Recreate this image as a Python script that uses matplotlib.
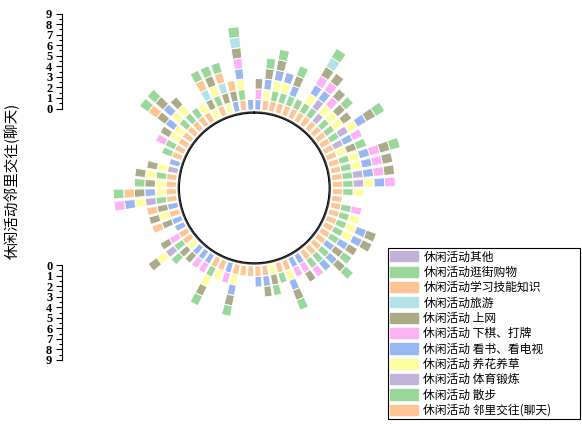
import numpy as np
import matplotlib.pyplot as plt
from matplotlib.ticker import MultipleLocator

plt.rcParams['font.family'] = ['Noto Sans CJK SC', 'DejaVu Sans']

# 72 samples around the ring, 1 = activity present
linli = [0,1,1,1,1,1,1,1,1,1,1,1,
         1,1,1,1,1,1,1,1,1,1,1,1,
         1,1,1,1,1,0,0,1,1,0,1,1,
         1,1,1,0,1,1,0,0,0,0,1,1,
         0,0,1,0,1,1,1,1,0,0,1,1,
         1,1,1,1,1,1,0,1,0,0,1,0]
sanbu = [0,0,1,1,1,1,1,1,0,1,1,1,
         0,0,1,1,1,1,1,0,1,1,1,1,
         1,0,1,1,1,0,0,0,1,0,0,0,
         0,0,0,0,0,1,0,0,0,0,1,0,
         0,0,0,0,1,0,0,1,0,0,1,1,
         0,0,1,1,1,0,0,1,0,0,1,0]
tiyu = [0,0,0,0,0,0,0,1,1,0,0,1,
        1,0,0,0,1,1,0,0,0,0,0,0,
        0,0,0,0,0,0,0,0,0,0,0,0,
        0,0,0,0,0,0,0,0,0,0,1,0,
        0,0,0,0,1,0,0,0,1,0,0,0,
        0,0,0,0,0,0,0,0,0,0,0,0]
yanghua = [0,1,1,1,0,0,1,0,1,1,1,1,
           0,1,1,1,0,1,1,0,0,1,1,1,
           0,0,0,0,0,0,0,1,0,1,0,0,
           0,0,1,0,1,1,0,0,0,1,1,0,
           0,0,1,0,1,1,1,1,1,0,0,0,
           1,1,1,1,0,1,1,1,1,0,1,0]
kanshu = [1,1,1,1,1,0,1,1,0,0,0,1,
          1,0,1,1,1,1,0,0,0,0,1,1,
          1,1,1,1,0,1,1,1,0,0,1,1,
          0,0,1,1,0,0,1,1,1,0,0,0,
          1,1,0,1,1,1,0,0,0,1,0,0,
          0,1,1,0,0,0,0,0,0,1,1,1]
xiaqi = [1,0,0,0,0,0,1,1,1,0,0,0,
         1,0,1,1,1,1,0,0,1,0,0,0,
         0,0,0,0,1,1,1,0,0,0,0,0,
         0,0,0,1,0,0,1,1,0,0,0,1,
         0,0,0,0,1,0,0,0,0,0,0,1,
         0,0,0,0,0,0,0,0,0,0,1,0]
shangwang = [1,1,1,0,1,0,1,1,1,1,1,1,
             0,1,1,1,1,0,0,0,0,0,1,1,
             1,1,1,0,0,1,0,1,0,1,1,0,
             0,0,1,0,0,1,0,0,1,1,1,1,
             0,1,1,1,0,1,1,1,1,0,0,0,
             1,1,1,1,0,0,1,1,1,1,1,0]
lvyou = [0,0,0,0,0,0,1,0,0,0,0,0,
         0,0,0,0,0,0,0,0,0,0,0,0,
         0,0,0,0,0,0,0,0,0,0,0,0,
         0,0,0,0,0,0,0,0,0,0,0,0,
         0,0,0,0,0,0,0,0,0,0,0,0,
         0,0,0,0,0,0,1,0,1,0,1,0]
xuexi = [0,0,0,0,0,0,0,0,0,0,0,0,
         0,0,0,0,0,0,0,0,0,0,0,0,
         0,0,0,0,0,0,0,0,0,0,0,0,
         0,0,0,0,0,0,0,0,0,0,0,0,
         0,1,0,1,0,1,0,0,0,0,0,0,
         0,1,0,0,0,0,1,0,1,1,0,0]
guangjie = [0,1,1,0,1,0,1,0,0,1,0,1,
            0,1,1,0,0,0,0,0,0,0,0,0,
            0,1,1,0,0,0,0,1,0,1,0,0,
            0,0,1,0,0,1,0,0,0,1,0,0,
            0,0,0,0,0,1,1,0,0,0,0,0,
            0,1,1,0,0,0,1,1,1,0,1,0]
qita = [0] * 72

# inner -> outer
series = [linli, sanbu, tiyu, yanghua, kanshu, xiaqi, shangwang, lvyou, xuexi, guangjie, qita]
names = ['休闲活动 邻里交往(聊天)', '休闲活动 散步', '休闲活动 体育锻炼', '休闲活动 养花养草',
         '休闲活动 看书、看电视', '休闲活动 下棋、打牌', '休闲活动 上网', '休闲活动旅游',
         '休闲活动学习技能知识', '休闲活动逛街购物', '休闲活动其他']
colors = ['#fdc594', '#99d79a', '#c3b2d7', '#fefe9e', '#98b6f0', '#fdb2f6',
          '#abab89', '#b2e2e6', '#fdc594', '#99d79a', '#c3b2d7']

fig = plt.figure(figsize=(5.82, 4.24), dpi=100)
ax = fig.add_axes([0.1405, 0.1498, 0.5928, 0.8137], projection='polar')
ax.set_theta_zero_location('N')
ax.set_theta_direction(-1)

n = len(linli)
theta = (np.arange(n) + 0.5) * 2 * np.pi / n
width = 2 * np.pi / n * 0.8

bottom = np.zeros(n)
handles = []
for vals, name, col in zip(series, names, colors):
    vals = np.array(vals, dtype=float)
    m = vals > 0
    ax.bar(theta[m], vals[m], width=width, bottom=bottom[m], color=col,
           edgecolor='white', linewidth=0.7, label=name)
    handles.append(plt.Rectangle((0, 0), 1, 1, color=col))
    bottom += vals

t = np.linspace(0, 2 * np.pi, 400)
ax.plot(t, np.full_like(t, -0.2), color='#3a3a3a', lw=1.1)

ax.set_rorigin(-7.43)
ax.set_ylim(-0.3, 9)
ax.set_xticks([])
ax.set_yticks([])
ax.grid(False)
for s in ax.spines.values():
    s.set_visible(False)
ax.patch.set_alpha(0)

# radius scale on the left
def radius_axis(y0, y1, invert):
    a = fig.add_axes([62 / 582, 1 - y0 / 424, 0.0001, (y0 - y1) / 424])
    a.set_ylim(9, 0) if invert else a.set_ylim(0, 9)
    a.yaxis.set_major_locator(MultipleLocator(1))
    a.yaxis.set_minor_locator(MultipleLocator(0.5))
    a.tick_params(axis='y', which='major', length=4, width=0.8, pad=3)
    a.tick_params(axis='y', which='minor', length=2.5, width=0.8)
    a.set_xticks([])
    for k in ['top', 'right', 'bottom']:
        a.spines[k].set_visible(False)
    a.spines['left'].set_linewidth(0.8)
    for lab in a.get_yticklabels():
        lab.set_fontfamily('Liberation Serif')
        lab.set_fontweight('bold')
        lab.set_fontsize(9)
    a.patch.set_alpha(0)
    return a

radius_axis(108.5, 13.5, False)
radius_axis(360, 265, True)

fig.text(12 / 582, 1 - 181 / 424, '休闲活动邻里交往(聊天)', rotation=90,
         ha='center', va='center', fontsize=10.5)

leg = fig.legend(handles[::-1], names[::-1], loc='upper left',
                 bbox_to_anchor=(388 / 582, 2 / 424, 192 / 582, 174 / 424), mode='expand',
                 fancybox=False, edgecolor='black', framealpha=1, fontsize=8.5,
                 handlelength=2.3, handleheight=0.95, handletextpad=0.5,
                 labelspacing=0.2, borderpad=0.2, borderaxespad=0)
leg.get_frame().set_linewidth(0.8)

fig.savefig('out.png', dpi=100)
